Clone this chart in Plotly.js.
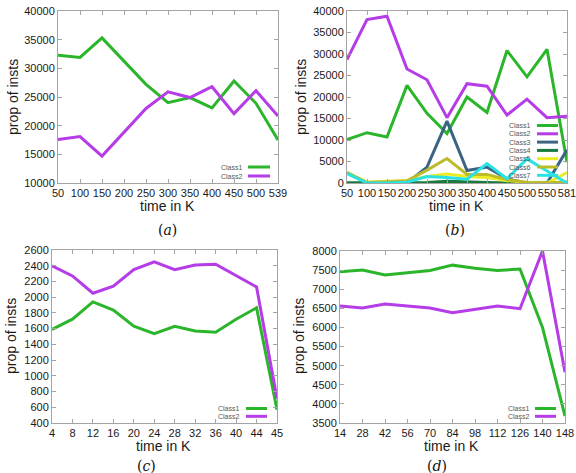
<!DOCTYPE html>
<html>
<head>
<meta charset="utf-8">
<script src="https://cdn.plot.ly/plotly-3.0.1.min.js"></script>
<style>
  html, body { margin: 0; padding: 0; background: #fff; }
  #chart { width: 576px; height: 473px; }
</style>
</head>
<body>
<div id="chart"></div>
<script>
// ---- data ----
const classNames = ['Class1', 'Class2', 'Class3', 'Class4', 'Class5', 'Class6', 'Class7'];
const classColors = ['#2bb52b', '#b53ce6', '#3b6483', '#187a3c', '#ecec22', '#bcbc2a', '#28e2e6'];

// (a)
const xA = ['50', '100', '150', '200', '250', '300', '350', '400', '450', '500', '539'];
const aClass1 = [32300, 31900, 35300, 31200, 27200, 24000, 24900, 23100, 27800, 23900, 17500];
const aClass2 = [17600, 18100, 14700, 18900, 23000, 25900, 24900, 26800, 22100, 26100, 21700];

// (b)
const xB = ['50', '100', '150', '200', '250', '300', '350', '400', '450', '500', '550', '581'];
const bClass1 = [10100, 11700, 10700, 22700, 16200, 11500, 20000, 16400, 30800, 24700, 31100, 4800];
const bClass2 = [28700, 38000, 38800, 26500, 24000, 15200, 23100, 22500, 15800, 19500, 15200, 15500];
const bClass3 = [0, 0, 0, 0, 3700, 14400, 2900, 3700, 1000, 0, 0, 7700];
const bClass4 = [0, 0, 0, 0, 100, 400, 200, 100, 0, 0, 0, 0];
const bClass5 = [2300, 200, 400, 500, 1500, 2100, 1500, 1300, 600, 100, 0, 2400];
const bClass6 = [2500, 100, 300, 500, 3000, 5700, 2000, 2000, 800, 100, 0, 300];
const bClass7 = [2200, 0, 0, 200, 1500, 1300, 900, 4500, 1000, 5600, 2800, 0];

// (c)
const xC = ['4', '8', '12', '16', '20', '24', '28', '32', '36', '40', '44', '45'];
const cClass1 = [1590, 1720, 1940, 1835, 1630, 1535, 1630, 1570, 1555, 1720, 1865, 570];
const cClass2 = [2400, 2270, 2050, 2140, 2350, 2450, 2350, 2410, 2420, 2280, 2130, 710];

// (d)
const xD = ['14', '28', '42', '56', '70', '84', '98', '112', '126', '140', '148'];
const dClass1 = [7460, 7500, 7370, 7430, 7490, 7630, 7550, 7490, 7530, 6000, 3680];
const dClass2 = [6560, 6510, 6615, 6570, 6510, 6385, 6470, 6560, 6490, 8000, 4830];

const xTitle = 'time in K';
const yTitle = 'prop of insts';
const captions = ['a', 'b', 'c', 'd'];

// ---- geometry helpers (page pixels -> paper fractions) ----
const W = 576, H = 473;
const px = v => v / W;
const py = v => 1 - v / H;

const panels = [
  { id: '',  x: xA, series: [aClass1, aClass2], yr: [10000, 40000], dt: 5000,
    box: [58, 278, 11, 183], legend: { right: 245, line: [248, 270], top: 167, step: 9 },
    ytitle: [13, 97], xtitle: [167, 206], cap: [167, 230] },
  { id: '2', x: xB, series: [bClass1, bClass2, bClass3, bClass4, bClass5, bClass6, bClass7], yr: [0, 40000], dt: 5000,
    box: [347, 567, 11, 183], legend: { right: 533, line: [537, 558], top: 125.5, step: 8.3 },
    ytitle: [301, 97], xtitle: [456, 206], cap: [455, 230] },
  { id: '3', x: xC, series: [cClass1, cClass2], yr: [400, 2600], dt: 200,
    box: [52, 277, 250, 423], legend: { right: 242, line: [246, 267], top: 408.5, step: 7.8 },
    ytitle: [11, 336], xtitle: [163, 446], cap: [146, 466] },
  { id: '4', x: xD, series: [dClass1, dClass2], yr: [3500, 8000], dt: 500,
    box: [340, 565, 251, 423], legend: { right: 532, line: [535, 556], top: 408.5, step: 7.8 },
    ytitle: [299, 336], xtitle: [451, 446], cap: [437, 466] }
];

const frame = '#a4a4a4';
const tickFont = { family: 'Liberation Sans, Arial, sans-serif', size: 11, color: '#1a1a1a' };
const titleFont = { family: 'Liberation Sans, Arial, sans-serif', size: 14, color: '#1a1a1a' };
const legendFont = { family: 'Liberation Sans, Arial, sans-serif', size: 7, color: '#555' };

const traces = [];
const layout = {
  width: W, height: H,
  margin: { l: 0, r: 0, t: 0, b: 0 },
  paper_bgcolor: '#fff', plot_bgcolor: '#fff',
  showlegend: false,
  annotations: [],
  shapes: []
};

panels.forEach((p, k) => {
  const xa = 'x' + p.id, ya = 'y' + p.id;
  p.series.forEach((vals, i) => {
    traces.push({
      type: 'scatter', mode: 'lines',
      x: p.x, y: vals, name: classNames[i],
      xaxis: xa, yaxis: ya,
      line: { color: classColors[i], width: 3 },
      hoverinfo: 'skip'
    });
  });

  const [l, r, t, b] = p.box;
  const common = {
    showline: true, linecolor: frame, linewidth: 1, mirror: 'ticks',
    ticks: 'inside', ticklen: 4, tickcolor: frame, tickwidth: 1,
    showgrid: false, zeroline: false, tickfont: tickFont, fixedrange: true,
    tickangle: 0
  };
  layout['xaxis' + p.id] = Object.assign({}, common, {
    type: 'category', domain: [px(l), px(r)], anchor: ya,
    range: [0, p.x.length - 1]
  });
  layout['yaxis' + p.id] = Object.assign({}, common, {
    domain: [py(b), py(t)], anchor: xa,
    range: p.yr, dtick: p.dt, tick0: p.yr[0], tickformat: 'd'
  });

  // axis titles
  layout.annotations.push({
    xref: 'paper', yref: 'paper', x: px(p.xtitle[0]), y: py(p.xtitle[1]),
    text: xTitle, showarrow: false, font: titleFont, xanchor: 'center', yanchor: 'middle'
  });
  layout.annotations.push({
    xref: 'paper', yref: 'paper', x: px(p.ytitle[0]), y: py(p.ytitle[1]),
    text: yTitle, showarrow: false, font: titleFont, textangle: -90,
    xanchor: 'center', yanchor: 'middle'
  });

  // sub-figure caption
  layout.annotations.push({
    xref: 'paper', yref: 'paper', x: px(p.cap[0]), y: py(p.cap[1]),
    text: '(<i>' + captions[k] + '</i>)', showarrow: false,
    font: { family: 'DejaVu Serif, Liberation Serif, serif', size: 14, color: '#111' },
    xanchor: 'center', yanchor: 'middle'
  });

  // key: label on the left, line sample on the right
  p.series.forEach((vals, i) => {
    const yy = p.legend.top + i * p.legend.step;
    layout.annotations.push({
      xref: 'paper', yref: 'paper', x: px(p.legend.right), y: py(yy),
      text: classNames[i], showarrow: false, font: legendFont,
      xanchor: 'right', yanchor: 'middle'
    });
    layout.shapes.push({
      type: 'line', xref: 'paper', yref: 'paper',
      x0: px(p.legend.line[0]), x1: px(p.legend.line[1]), y0: py(yy), y1: py(yy),
      line: { color: classColors[i], width: 3 }
    });
  });
});

Plotly.newPlot('chart', traces, layout, { displayModeBar: false, staticPlot: true });
</script>
</body>
</html>
